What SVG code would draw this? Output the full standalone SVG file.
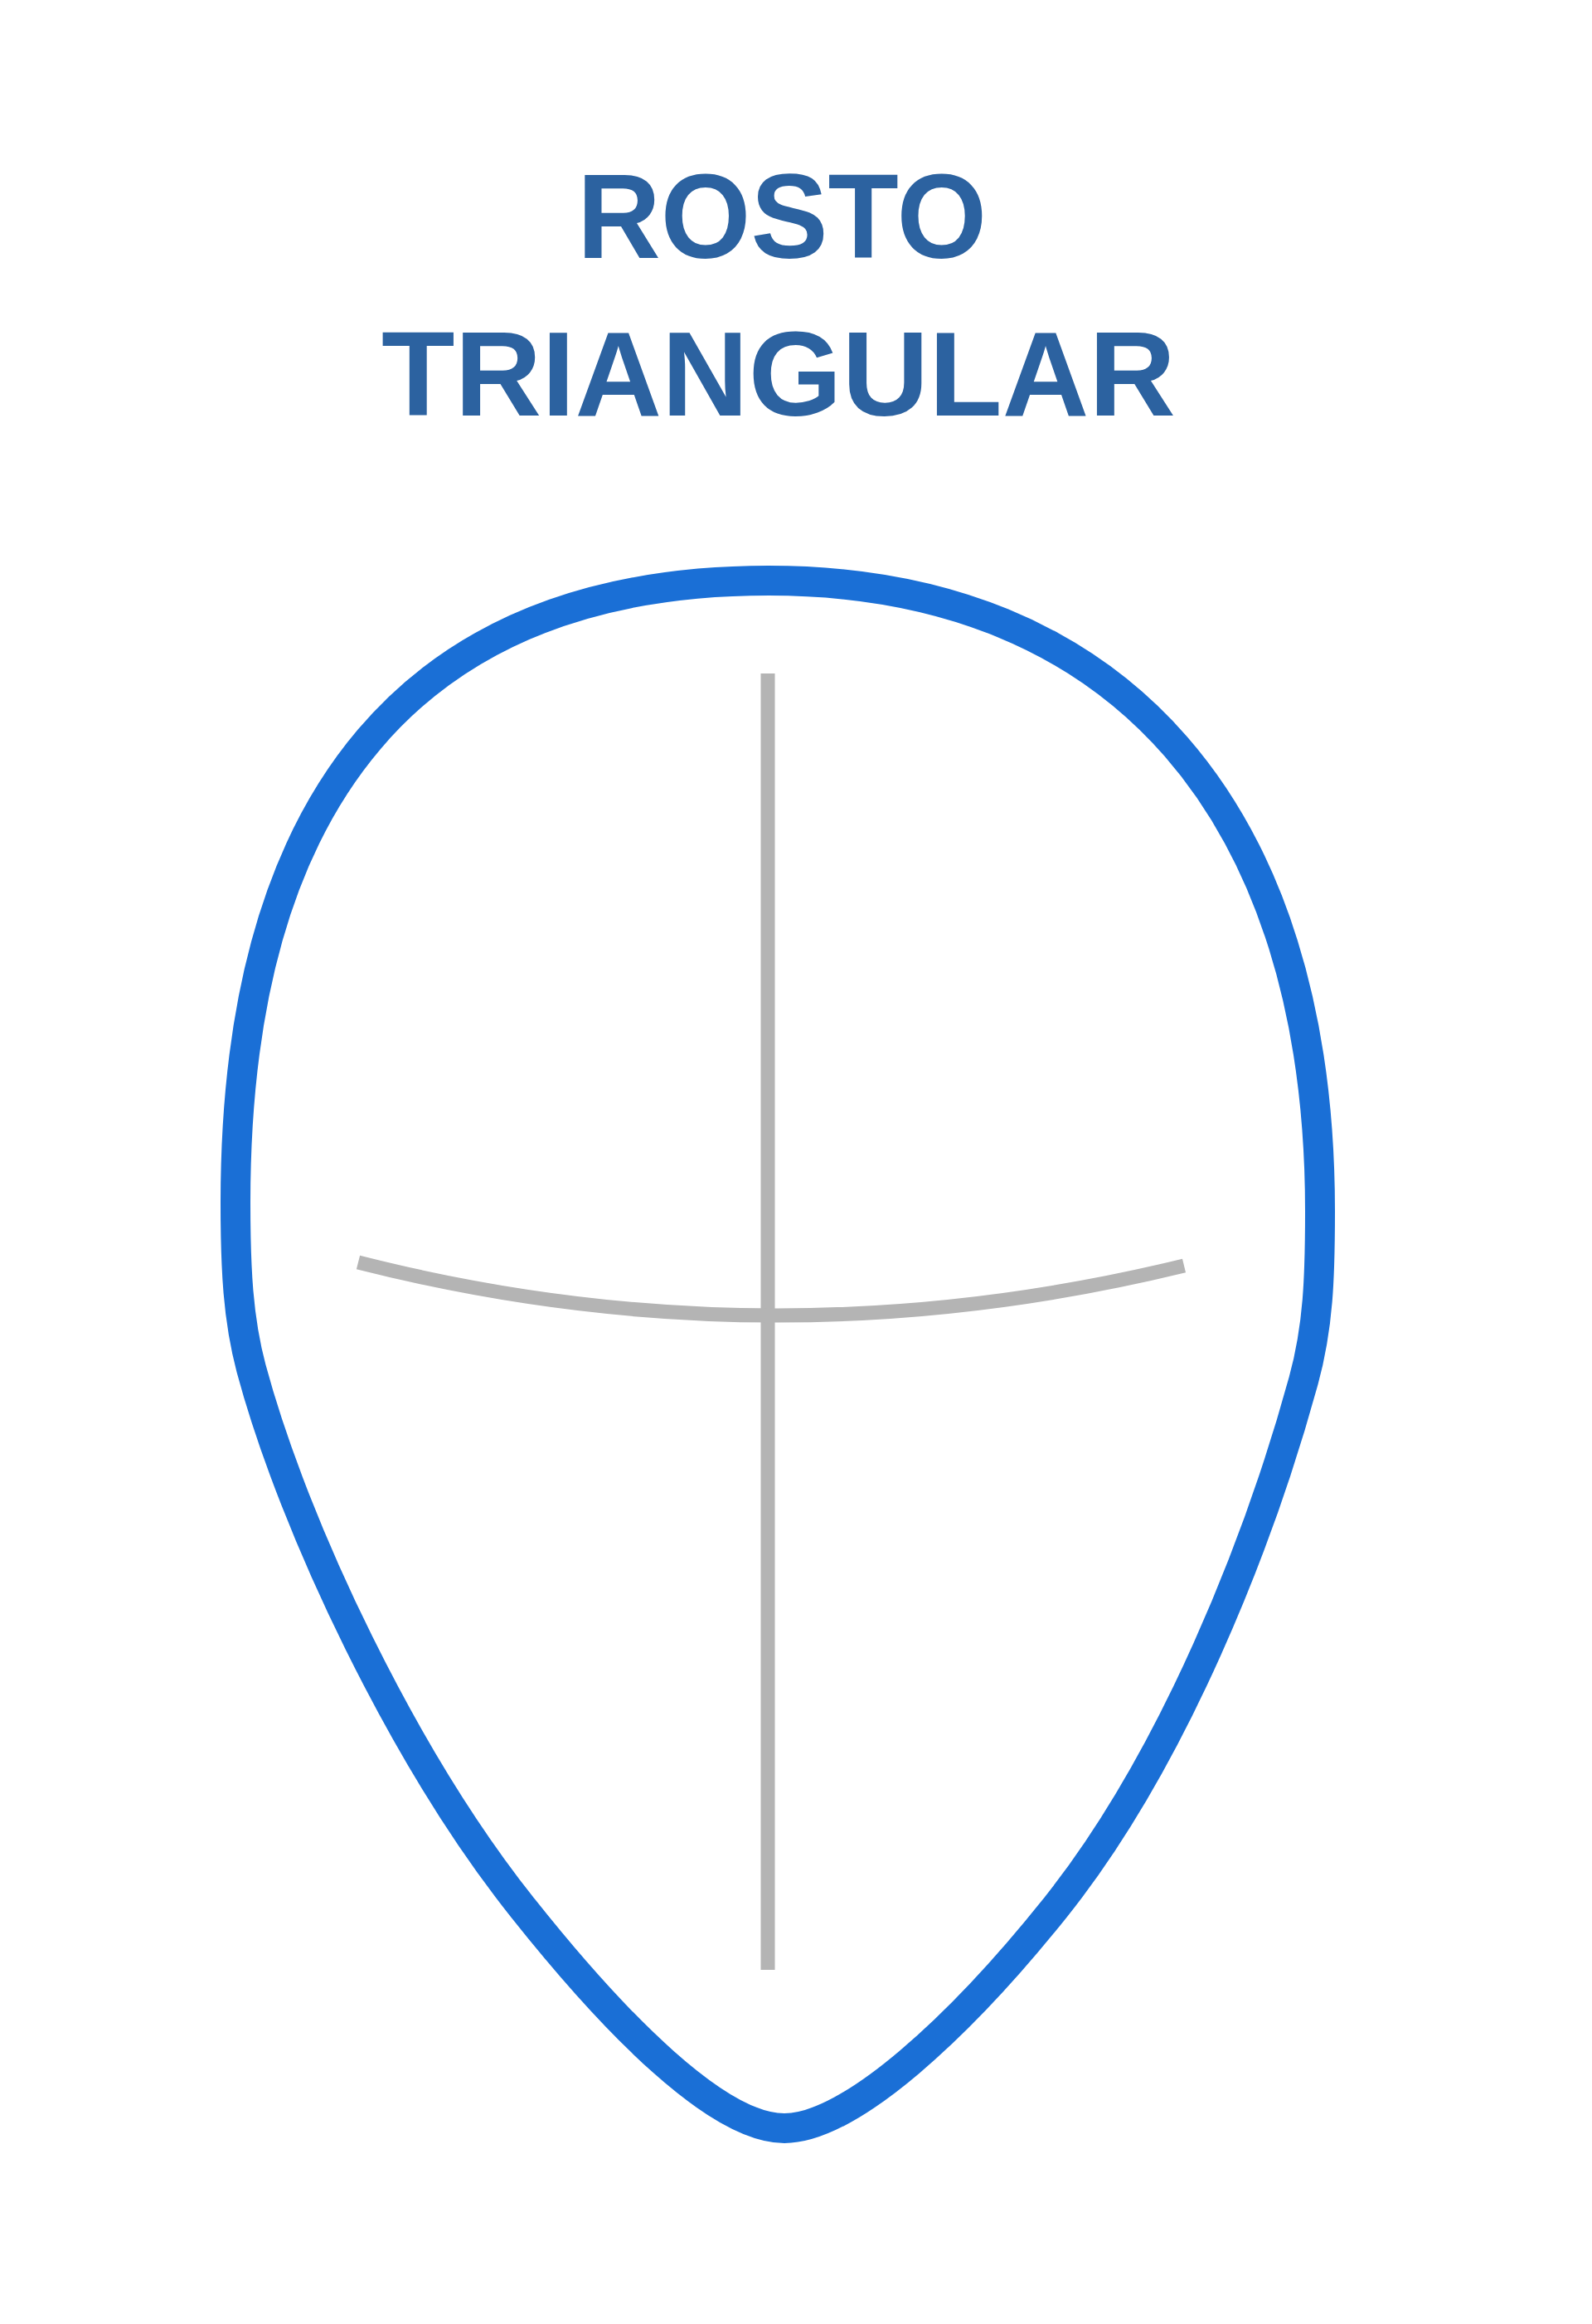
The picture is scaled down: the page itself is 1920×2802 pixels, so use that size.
<svg xmlns="http://www.w3.org/2000/svg" width="1920" height="2802" viewBox="0 0 1920 2802">
<style>
.title{font-family:"Liberation Sans",Arial,sans-serif;font-weight:bold;font-size:145px;fill:#2c62a0;text-anchor:middle}
.face{fill:none;stroke:#1a6fd6;stroke-width:36;stroke-linejoin:round;stroke-linecap:round}
.guide{fill:none;stroke:#b4b4b4;stroke-width:17}
</style>
<rect width="1920" height="2802" fill="#ffffff"/>
<g id="title">
<text class="title" x="943" y="311" textLength="494" lengthAdjust="spacingAndGlyphs">ROSTO</text>
<text class="title" x="939" y="501" textLength="958" lengthAdjust="spacingAndGlyphs">TRIANGULAR</text>
</g>
<g id="face">
<path class="face" d="M927,700 C1350,700 1592,980 1592,1460 C1592,1540 1590,1600 1572,1665 C1519,1858 1416,2121 1272,2301 C1159.5,2441.6 1026,2566 946,2566 C866,2566 742.6,2441.4 631,2301 C488,2122 355,1843 303,1650 C287,1590 284,1530 284,1450 C284,960 500,700 927,700 Z"/>
</g>
<g id="guides">
<line class="guide" x1="926" y1="812" x2="926" y2="2375"/>
<path class="guide" d="M432,1522 Q928,1648 1428,1526"/>
</g>
</svg>
